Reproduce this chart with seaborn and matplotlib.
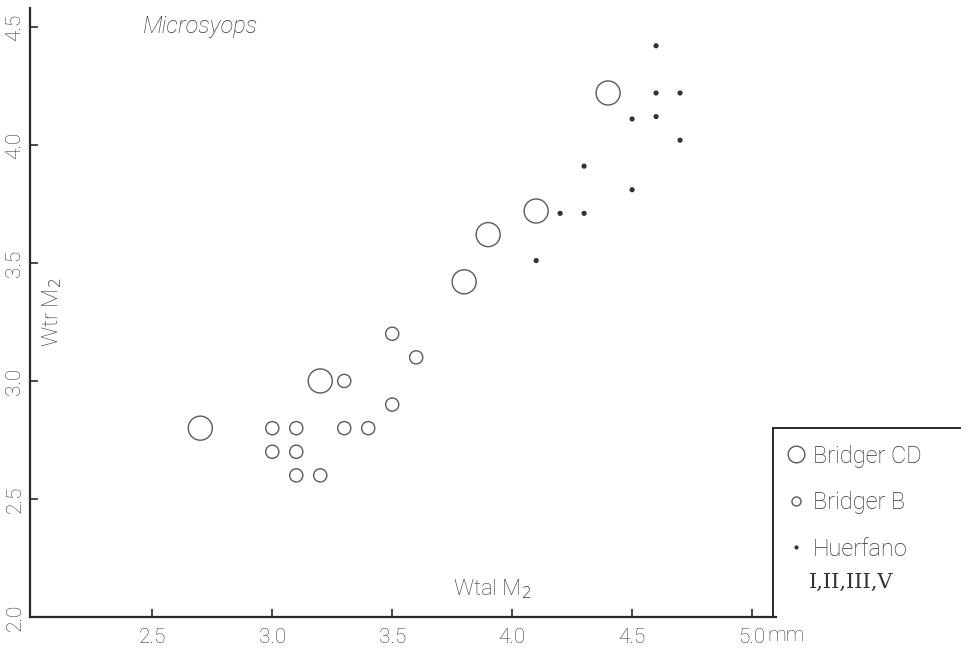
import matplotlib
matplotlib.use("Agg")
import matplotlib.pyplot as plt
from matplotlib.lines import Line2D
import seaborn as sns
import pandas as pd

# ---- data ----
cd_x = [2.7, 3.2, 3.8, 3.9, 4.1, 4.4]
cd_y = [2.8, 3.0, 3.42, 3.62, 3.72, 4.22]

b_x = [3.5, 3.6, 3.3, 3.5, 3.0, 3.1, 3.3, 3.4, 3.0, 3.1, 3.1, 3.2]
b_y = [3.2, 3.1, 3.0, 2.9, 2.8, 2.8, 2.8, 2.8, 2.7, 2.7, 2.6, 2.6]

h_x = [4.6, 4.6, 4.7, 4.5, 4.6, 4.7, 4.3, 4.5, 4.2, 4.3, 4.1]
h_y = [4.42, 4.22, 4.22, 4.11, 4.12, 4.02, 3.91, 3.81, 3.71, 3.71, 3.51]

x_ticks = [2.5, 3.0, 3.5, 4.0, 4.5, 5.0]
x_tick_labels = ["2.5", "3.0", "3.5", "4.0", "4.5", "5.0"]
y_ticks = [2.0, 2.5, 3.0, 3.5, 4.0, 4.5]
y_tick_labels = ["2.0", "2.5", "3.0", "3.5", "4.0", "4.5"]

series_labels = ["Bridger CD", "Bridger B", "Huerfano"]

sns.set_theme(style="white")
plt.rcParams["font.family"] = ["Roboto", "DejaVu Sans"]
plt.rcParams["font.weight"] = "light"

ink = "#2a2a2a"
mark = "#5a5a5a"
txt = "#3a3a3a"

fig = plt.figure(figsize=(9.68, 6.54), dpi=100)
W, H = 968, 654
ax = fig.add_axes([30 / W, (H - 617) / H, (776 - 30) / W, (617 - 8) / H])

df_cd = pd.DataFrame({"x": cd_x, "y": cd_y})
df_b = pd.DataFrame({"x": b_x, "y": b_y})
df_h = pd.DataFrame({"x": h_x, "y": h_y})

sns.scatterplot(data=df_cd, x="x", y="y", s=300, facecolor="none",
                edgecolor=mark, linewidth=1.0, ax=ax, zorder=3)
sns.scatterplot(data=df_b, x="x", y="y", s=90, facecolor="none",
                edgecolor=mark, linewidth=1.0, ax=ax, zorder=3)
sns.scatterplot(data=df_h, x="x", y="y", s=14, color="#333333",
                edgecolor="none", ax=ax, zorder=3)

ax.set_xlim(1.99, 5.1)
ax.set_ylim(2.0, 4.58)
ax.set_xlabel("")
ax.set_ylabel("")

ax.set_xticks(x_ticks)
ax.set_xticklabels(x_tick_labels, fontsize=15, color=txt)
ax.set_yticks(y_ticks)
ax.set_yticklabels(y_tick_labels, fontsize=15, color=txt,
                   rotation=90, va="center")
ax.tick_params(axis="both", direction="in", length=6, width=1.2,
               color=ink, left=True, bottom=True)
ax.tick_params(axis="x", pad=8)
ax.tick_params(axis="y", pad=4)

for s in ["top", "right"]:
    ax.spines[s].set_visible(False)
for s in ["left", "bottom"]:
    ax.spines[s].set_color(ink)
    ax.spines[s].set_linewidth(1.6)

ax.text(5.065, -0.031, "mm", transform=ax.get_xaxis_transform(),
        fontsize=15, color=txt, ha="left", va="center")

ax.text(0.228, 0.969, "Microsyops", transform=ax.transAxes, fontsize=17,
        style="italic", color="#333333", ha="center", va="center")
ax.text(0.030, 0.50, "Wtr M$_2$", transform=ax.transAxes, fontsize=16,
        color=txt, rotation=90, ha="center", va="center")
ax.text(0.62, 0.046, "Wtal M$_2$", transform=ax.transAxes, fontsize=16,
        color=txt, ha="center", va="center")

# ---- legend box ----
lax = fig.add_axes([773 / W, (H - 617) / H, (960 - 773) / W, (617 - 428) / H])
lax.set_xticks([])
lax.set_yticks([])
lax.patch.set_alpha(0)
for s in ["right", "bottom"]:
    lax.spines[s].set_visible(False)
for s in ["left", "top"]:
    lax.spines[s].set_color(ink)
    lax.spines[s].set_linewidth(1.4)

handles = [
    Line2D([], [], linestyle="none", marker="o", markersize=12,
           markerfacecolor="none", markeredgecolor=mark, markeredgewidth=1.0),
    Line2D([], [], linestyle="none", marker="o", markersize=6.5,
           markerfacecolor="none", markeredgecolor=mark, markeredgewidth=1.0),
    Line2D([], [], linestyle="none", marker="o", markersize=3,
           markerfacecolor="#333333", markeredgecolor="none"),
]
leg = lax.legend(handles, series_labels, loc="upper left",
                 bbox_to_anchor=(-0.02, 1.0), frameon=False, fontsize=17,
                 handlelength=0.9, handletextpad=0.25, labelspacing=1.0,
                 borderaxespad=0.3)
for t in leg.get_texts():
    t.set_color("#333333")
lax.text(0.19, 0.185, "I,II,III,V", transform=lax.transAxes, fontsize=15,
         family="DejaVu Serif", color="#333333", ha="left", va="center")

fig.savefig("out.png", dpi=100)
